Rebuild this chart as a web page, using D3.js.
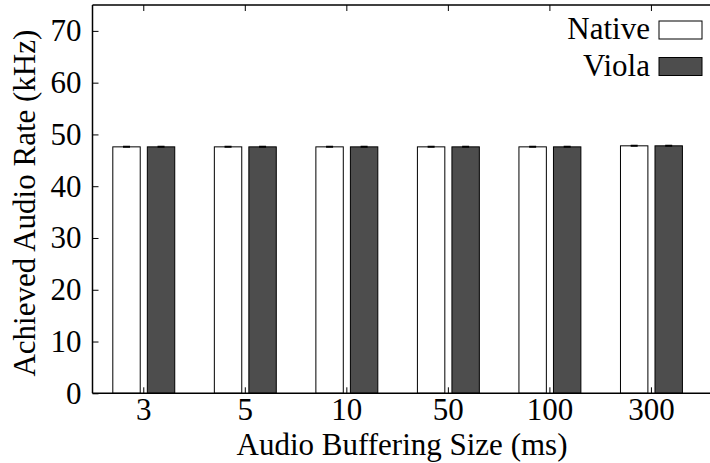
<!DOCTYPE html>
<html><head><meta charset="utf-8">
<script src="https://cdn.jsdelivr.net/npm/d3@7"></script>
<style>body{margin:0;background:#fff}</style>
</head><body>
<svg id="c" width="710" height="463"></svg>
<script>
const categories = ["3","5","10","50","100","300"];
const nativeValues = [47.6,47.6,47.6,47.6,47.6,47.8];
const violaValues = [47.6,47.6,47.6,47.6,47.6,47.8];
const nativeErr = [0.05,0.05,0.05,0.05,0.05,0.05];
const violaErr = [0.05,0.05,0.05,0.05,0.05,0.05];
const yTicks = [0,10,20,30,40,50,60,70];
const seriesNames = ["Native","Viola"];
const seriesColors = ["#ffffff","#4d4d4d"];

const FONT = '"Liberation Serif", "Times New Roman", serif';
const svg = d3.select("#c");
const L=92.5, R=701.7, T=5, B=393.3;
const x = d3.scaleLinear().domain([-0.5, categories.length-0.5]).range([L,R]);
const y = d3.scaleLinear().domain([0,75]).range([B,T]);
const fs = 31;
const styleText = sel => sel.style("font-family",FONT).style("font-size",fs+"px").attr("fill","#000");

const series = [
  {name:seriesNames[0], vals:nativeValues, err:nativeErr, color:seriesColors[0], off:-0.30},
  {name:seriesNames[1], vals:violaValues, err:violaErr, color:seriesColors[1], off:0.04}
];
const bw = 0.27;
series.forEach(s=>{
  const g = svg.append("g");
  g.selectAll("rect").data(s.vals).join("rect")
    .attr("x",(d,i)=>x(i+s.off)).attr("width",x(bw)-x(0))
    .attr("y",d=>y(d)).attr("height",d=>y(0)-y(d))
    .attr("fill",s.color).attr("stroke","#000").attr("stroke-width",1);
  const cx=(i)=>x(i+s.off+bw/2);
  g.selectAll("path.err").data(s.vals).join("path").attr("class","err")
    .attr("d",(d,i)=>{const e=s.err[i];const c=cx(i);
      return `M${c},${y(d-e)}V${y(d+e)}M${c-3.5},${y(d+e)}H${c+3.5}M${c-3.5},${y(d-e)}H${c+3.5}`;})
    .attr("stroke","#000").attr("stroke-width",1.5).attr("fill","none");
});

svg.append("line").attr("x1",L).attr("x2",710).attr("y1",T).attr("y2",T).attr("stroke","#000").attr("stroke-width",1.5);
svg.append("line").attr("x1",L).attr("x2",710).attr("y1",B).attr("y2",B).attr("stroke","#000").attr("stroke-width",1.5);
svg.append("line").attr("x1",L).attr("x2",L).attr("y1",T).attr("y2",B).attr("stroke","#000").attr("stroke-width",1.5);

const ya = svg.append("g").attr("transform",`translate(${L},0)`)
  .call(d3.axisLeft(y).tickValues(yTicks).tickSize(-6).tickPadding(11).tickFormat(d3.format("d")));
ya.select(".domain").remove();
ya.selectAll("line").attr("stroke","#000").attr("stroke-width",1);
ya.selectAll("text").call(styleText).attr("dy","0.32em");

const xa = svg.append("g").attr("transform",`translate(0,${B})`)
  .call(d3.axisBottom(x).tickValues(d3.range(categories.length)).tickSize(-6).tickPadding(0).tickFormat(i=>categories[i]));
xa.select(".domain").remove();
xa.selectAll("line").attr("stroke","#000").attr("stroke-width",1);
xa.selectAll("text").call(styleText).attr("y",26.5).attr("dy",null);
const xt = svg.append("g").attr("transform",`translate(0,${T})`)
  .call(d3.axisTop(x).tickValues(d3.range(categories.length)).tickSize(-6).tickFormat(""));
xt.select(".domain").remove();
xt.selectAll("line").attr("stroke","#000").attr("stroke-width",1);

svg.append("text").attr("x",402).attr("y",455).attr("text-anchor","middle")
  .call(styleText).text("Audio Buffering Size (ms)");
svg.append("text").attr("transform",`translate(35,${(T+B)/2+4}) rotate(-90)`).attr("text-anchor","middle")
  .call(styleText).text("Achieved Audio Rate (kHz)");

series.forEach((s,i)=>{
  const yy = 21 + i*36.5;
  svg.append("rect").attr("x",659).attr("y",yy).attr("width",43).attr("height",18)
    .attr("fill",s.color).attr("stroke","#000").attr("stroke-width",1);
  svg.append("text").attr("x",650).attr("y",yy+18).attr("text-anchor","end")
    .call(styleText).text(s.name);
});
</script>
</body></html>
